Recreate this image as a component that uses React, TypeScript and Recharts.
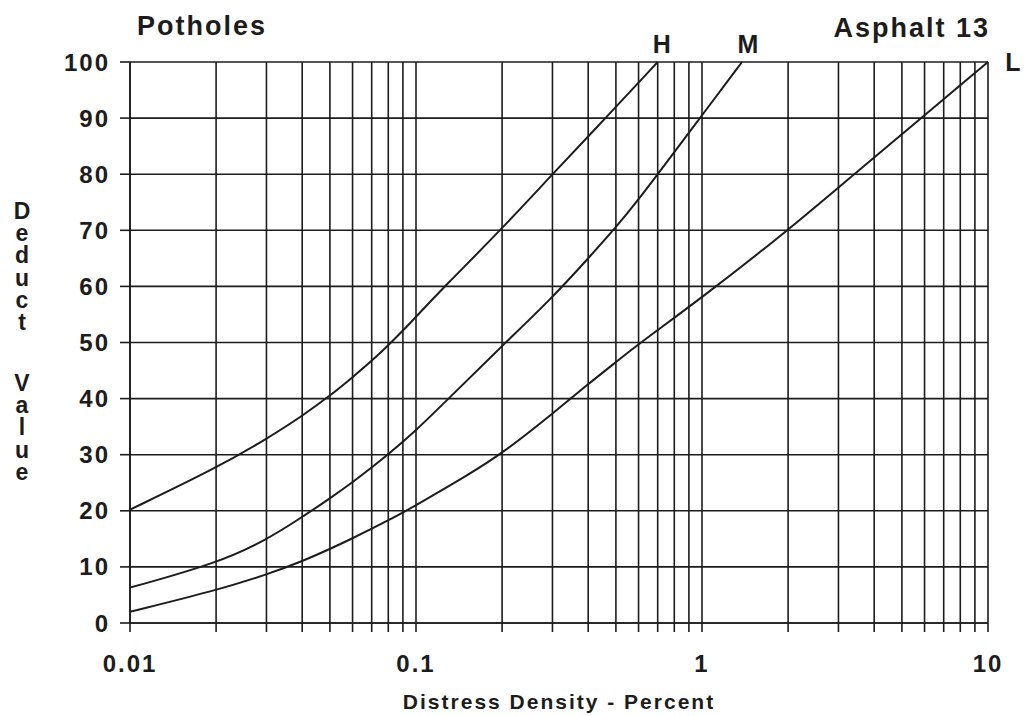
import React from 'react';
import { LineChart, Line, XAxis, YAxis, CartesianGrid, LabelList } from 'recharts';

// x = distress density (%), y = deduct value
const hX = [0.01, 0.02, 0.03, 0.04, 0.05, 0.06, 0.07, 0.08, 0.09, 0.1, 0.126, 0.2, 0.3, 0.46, 0.7];
const hY = [20.2, 27.6, 32.8, 36.9, 40.5, 43.8, 46.7, 49.5, 52.1, 54.6, 60, 70.3, 80, 90, 100];

const mX = [0.01, 0.02, 0.03, 0.04, 0.05, 0.06, 0.07, 0.08, 0.1, 0.13, 0.2, 0.3, 0.4, 0.5, 0.6, 0.7, 1, 1.38];
const mY = [6.3, 10.6, 14.8, 18.9, 22.2, 25.1, 27.7, 30.1, 34.3, 40, 49.4, 58, 65, 70.5, 75.5, 80, 90.5, 100];

const lX = [0.01, 0.02, 0.03, 0.04, 0.05, 0.06, 0.07, 0.08, 0.09, 0.1, 0.15, 0.2, 0.3, 0.4, 0.5, 0.61, 1, 2, 3.4, 5.85, 10];
const lY = [2, 5.8, 8.6, 11, 13.2, 15.1, 16.8, 18.3, 19.7, 21, 26.2, 30.2, 37.3, 42.6, 46.5, 50, 58, 70, 80, 90, 100];

const xTicks = [
  0.01, 0.02, 0.03, 0.04, 0.05, 0.06, 0.07, 0.08, 0.09,
  0.1, 0.2, 0.3, 0.4, 0.5, 0.6, 0.7, 0.8, 0.9,
  1, 2, 3, 4, 5, 6, 7, 8, 9, 10,
];
const xLabels = ['0.01', '0.1', '1', '10'];
const yTicks = [0, 10, 20, 30, 40, 50, 60, 70, 80, 90, 100];

const toSeries = (xs: number[], ys: number[]) => xs.map((x, i) => ({ x, y: ys[i] }));
const hData = toSeries(hX, hY);
const mData = toSeries(mX, mY);
const lData = toSeries(lX, lY);

const ink = '#1c1c1c';
const font = '"Liberation Sans", Arial, sans-serif';

const endLabel = (name: string, last: number, dx: number, dy: number) => (props: any) => {
  if (props.index !== last) return null;
  return (
    <text
      x={props.x + dx}
      y={props.y + dy}
      textAnchor="middle"
      dominantBaseline="central"
      fontSize={25}
      fontWeight={700}
      fill={ink}
    >
      {name}
    </text>
  );
};

const vertical: React.CSSProperties = {
  position: 'absolute',
  left: 10,
  writingMode: 'vertical-rl',
  textOrientation: 'upright',
  fontSize: 23,
  lineHeight: '24px',
  letterSpacing: -3.8,
  fontWeight: 700,
  color: ink,
};

export default function App() {
  const tickStyle = { fontSize: 24, fontWeight: 700, fill: ink, letterSpacing: 2 };

  return (
    <div style={{ position: 'absolute', left: 0, top: 0, width: 1027, height: 716, background: '#fff', fontFamily: font }}>
      <LineChart width={1027} height={716} margin={{ top: 62, right: 39, bottom: 33, left: 50 }}>
        <CartesianGrid stroke={ink} strokeWidth={1.6} />
        <XAxis
          dataKey="x"
          type="number"
          scale="log"
          domain={[0.01, 10]}
          allowDataOverflow
          ticks={xTicks}
          interval={0}
          height={60}
          tickFormatter={(v: number) => (xLabels.includes(String(v)) ? String(v) : '')}
          tick={tickStyle}
          tickSize={9}
          tickMargin={23}
          stroke={ink}
          strokeWidth={1.6}
        />
        <YAxis
          type="number"
          domain={[0, 100]}
          ticks={yTicks}
          interval={0}
          width={80}
          tick={tickStyle}
          tickSize={10}
          tickMargin={10}
          stroke={ink}
          strokeWidth={1.6}
        />
        <Line data={hData} dataKey="y" type="basis" stroke={ink} strokeWidth={2} dot={false} isAnimationActive={false}>
          <LabelList dataKey="y" content={endLabel('H', hData.length - 1, 4, -18)} />
        </Line>
        <Line data={mData} dataKey="y" type="basis" stroke={ink} strokeWidth={2} dot={false} isAnimationActive={false}>
          <LabelList dataKey="y" content={endLabel('M', mData.length - 1, 6, -18)} />
        </Line>
        <Line data={lData} dataKey="y" type="basis" stroke={ink} strokeWidth={2} dot={false} isAnimationActive={false}>
          <LabelList dataKey="y" content={endLabel('L', lData.length - 1, 25, 0)} />
        </Line>
      </LineChart>

      <div style={{ position: 'absolute', left: 137, top: 13, fontSize: 27, lineHeight: '27px', fontWeight: 700, letterSpacing: 2, color: ink }}>
        Potholes
      </div>
      <div style={{ position: 'absolute', right: 37, top: 15, fontSize: 27, lineHeight: '27px', fontWeight: 700, letterSpacing: 2, color: ink }}>
        Asphalt 13
      </div>
      <div style={{ ...vertical, top: 198 }}>Deduct</div>
      <div style={{ ...vertical, top: 370 }}>Value</div>
      <div style={{ position: 'absolute', left: 359, top: 691, width: 400, textAlign: 'center', fontSize: 21, lineHeight: '21px', fontWeight: 700, letterSpacing: 2, color: ink }}>
        Distress Density - Percent
      </div>
    </div>
  );
}
